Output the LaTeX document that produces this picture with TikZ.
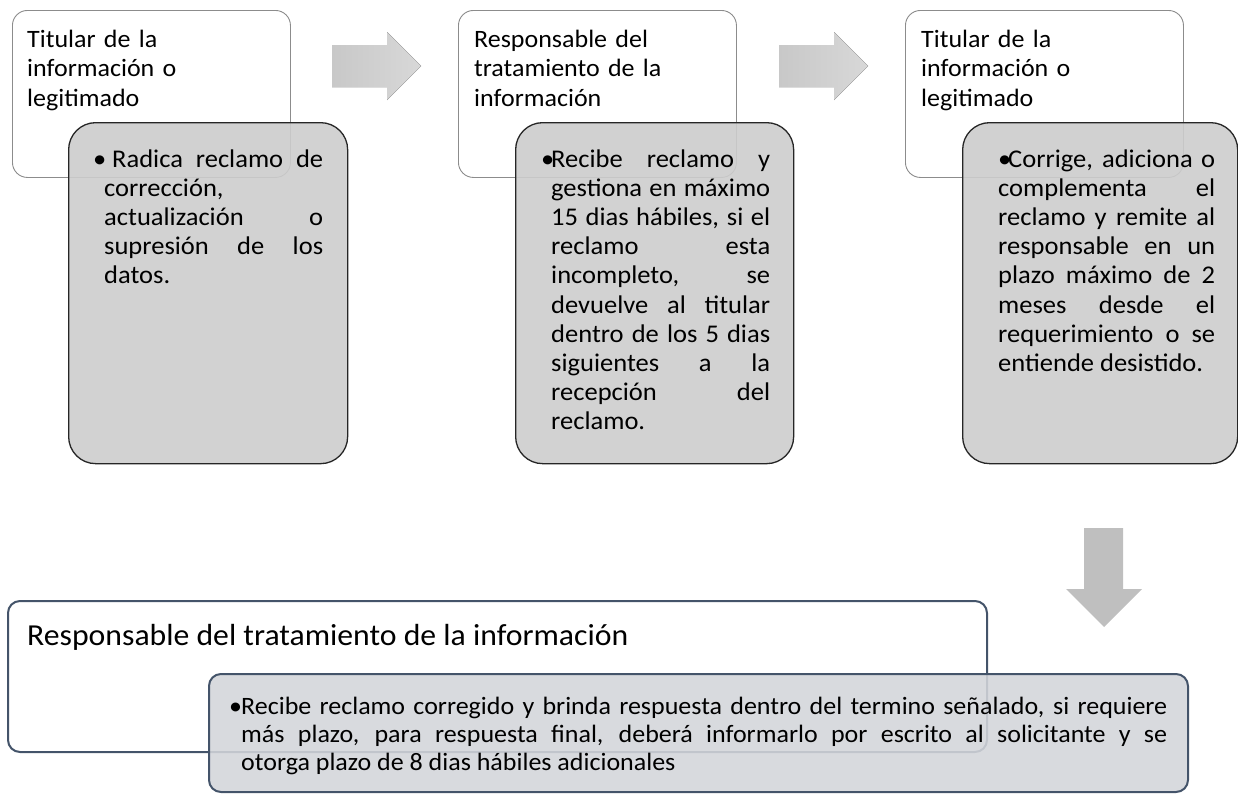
\documentclass[tikz,border=0pt]{standalone}
\usepackage{fontspec}
\setmainfont{Carlito}[FakeStretch=1.04]
\definecolor{hdrline}{HTML}{8C8C8C}
\definecolor{gline}{HTML}{262626}
\definecolor{gfill}{HTML}{CDCDCD}
\definecolor{bline}{HTML}{44546A}
\definecolor{bfill}{HTML}{D3D5DA}
\definecolor{arrA}{HTML}{C8C8C8}
\definecolor{arrB}{HTML}{D8D8D8}
\definecolor{arrD}{HTML}{BFBFBF}
\newcommand{\jpar}[2]{\parbox[t]{#1}{\tolerance=10000\hbadness=10000\hyphenpenalty=10000\emergencystretch=50pt #2}}
\tikzset{
  hdr/.style={draw=hdrline, line width=0.9pt, rounded corners=15pt, fill=white, anchor=north west, inner sep=0pt},
  gbox/.style={draw=gline, line width=1.3pt, rounded corners=27pt, fill=gfill, fill opacity=0.9, anchor=north west, inner sep=0pt},
  bhdr/.style={draw=bline, line width=2pt, rounded corners=12pt, fill=white, anchor=north west, inner sep=0pt},
  bbox/.style={draw=bline, line width=2pt, rounded corners=12pt, fill=bfill, fill opacity=0.88, anchor=north west, inner sep=0pt},
  ttl/.style={anchor=base west, inner sep=0pt, font=\fontsize{25}{29.6}\selectfont, align=left},
  btl/.style={anchor=base west, inner sep=0pt, font=\fontsize{30.5}{36}\selectfont},
  body/.style={anchor=base west, inner sep=0pt, font=\fontsize{25.5}{29.2}\selectfont},
  bbody/.style={anchor=base west, inner sep=0pt, font=\fontsize{25}{28}\selectfont},
  harrow/.style={left color=arrA, right color=arrB},
  varrow/.style={fill=arrD}
}
\begin{document}
\begin{tikzpicture}[x=1pt,y=-1pt]
\useasboundingbox (0,0) rectangle (1238,793);
% column 1
\node[hdr, minimum width=278pt, minimum height=167pt] (h1) at (12,10) {};
\node[ttl, text width=240pt] (h1t) at (27,47) {Titular de la\\información o\\legitimado};
\node[gbox, minimum width=279pt, minimum height=341pt] (g1) at (68,122) {};
\node[body] (g1t) at (104,167) {\jpar{219pt}{\hspace*{-11pt}\makebox[19pt][l]{\textbullet}Radica reclamo de\linebreak corrección,\linebreak actualización o\linebreak supresión de los\linebreak datos.}};
% arrow 1
\fill[harrow] (332,45) -- (387,45) -- (387,32) -- (421,66) -- (387,100) -- (387,87) -- (332,87) -- cycle;
% column 2
\node[hdr, minimum width=278pt, minimum height=167pt] (h2) at (458,10) {};
\node[ttl, text width=240pt] (h2t) at (474,47) {Responsable del\\tratamiento de la\\información};
\node[gbox, minimum width=278pt, minimum height=341pt] (g2) at (515,122) {};
\node[body] (g2t) at (551,167) {\jpar{219pt}{\hspace*{-10pt}\makebox[10pt][l]{\textbullet}Recibe reclamo y\linebreak gestiona en máximo\linebreak 15 dias hábiles, si el\linebreak reclamo esta\linebreak incompleto, se\linebreak devuelve al titular\linebreak dentro de los 5 dias\linebreak siguientes a la\linebreak recepción del\linebreak reclamo.}};
% arrow 2
\fill[harrow] (779,45) -- (834,45) -- (834,32) -- (868,66) -- (834,100) -- (834,87) -- (779,87) -- cycle;
% column 3
\node[hdr, minimum width=278pt, minimum height=167pt] (h3) at (905,10) {};
\node[ttl, text width=240pt] (h3t) at (921,47) {Titular de la\\información o\\legitimado};
\node[gbox, minimum width=275pt, minimum height=341pt] (g3) at (962,122) {};
\node[body] (g3t) at (998,167) {\jpar{217pt}{\makebox[10pt][l]{\textbullet}Corrige, adiciona o\linebreak complementa el\linebreak reclamo y remite al\linebreak responsable en un\linebreak plazo máximo de 2\linebreak meses desde el\linebreak requerimiento o se\linebreak entiende desistido.}};
% down arrow
\fill[varrow] (1084,528) -- (1123,528) -- (1123,589) -- (1142,589) -- (1104,627) -- (1066,589) -- (1084,589) -- cycle;
% bottom
\node[bhdr, minimum width=979pt, minimum height=151pt] (h4) at (7,600) {};
\node[btl] (h4t) at (27,645) {Responsable del tratamiento de la información};
\node[bbox, minimum width=979pt, minimum height=118pt] (g4) at (208,673) {};
\node[bbody] (g4t) at (241,714) {\jpar{926pt}{\hspace*{-12pt}\makebox[12pt][l]{\textbullet}Recibe reclamo corregido y brinda respuesta dentro del termino señalado, si requiere\linebreak más plazo, para respuesta final, deberá informarlo por escrito al solicitante y se\linebreak otorga plazo de 8 dias hábiles adicionales}};
\end{tikzpicture}
\end{document}
